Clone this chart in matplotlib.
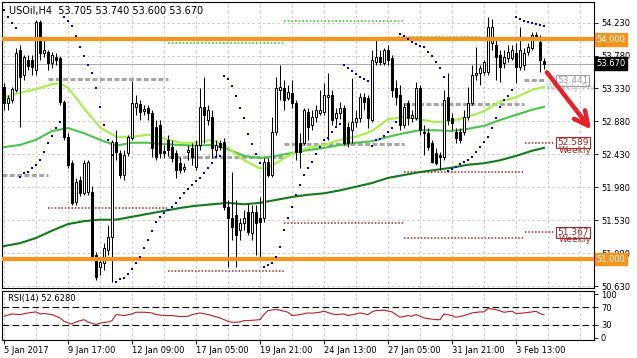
import matplotlib
matplotlib.use('Agg')
import matplotlib.pyplot as plt
import matplotlib.transforms as mtransforms

# velas H4 de USOil (apertura, maximo, minimo, cierre)
opens = [53.35, 53.13, 53.17, 53.31, 53.85, 53.51, 53.72, 53.72, 53.58, 54.24,
         53.81, 53.83, 53.68, 53.76, 53.74, 53.15, 52.67, 52.31, 51.78, 52.08,
         51.90, 51.92, 51.92, 51.06, 50.89, 50.95, 51.13, 51.30, 52.60, 52.45,
         52.15, 52.45, 52.65, 53.08, 53.12, 53.02, 53.06, 52.99, 52.80, 52.83,
         52.48, 52.63, 52.53, 52.45, 52.31, 52.23, 52.47, 52.52, 52.26, 52.56,
         53.08, 52.90, 52.94, 52.49, 52.58, 52.60, 51.71, 51.56, 51.60, 51.40,
         51.49, 51.64, 51.36, 51.64, 51.56, 51.56, 52.33, 52.15, 52.74, 53.31,
         53.34, 53.20, 53.27, 53.13, 52.59, 52.59, 53.01, 52.83, 52.94, 52.99,
         53.01, 53.21, 53.24, 52.93, 52.99, 53.06, 52.80, 52.76, 52.87, 52.93,
         53.21, 53.20, 52.90, 53.69, 53.76, 53.68, 53.85, 53.75, 53.34, 53.24,
         52.83, 53.13, 52.93, 52.93, 53.34, 52.74, 52.72, 52.59, 52.45, 52.42,
         52.40, 53.21, 52.93, 52.74, 52.74, 52.74, 52.94, 53.13, 53.51, 53.54,
         53.55, 53.55, 53.95, 53.92, 53.79, 53.68, 53.75, 53.75, 53.81, 53.62,
         53.65, 53.83, 53.88, 54.04, 53.97, 53.705]
highs = [53.40, 53.24, 53.35, 53.88, 53.92, 53.79, 53.79, 53.79, 54.26, 54.26,
         53.99, 53.85, 53.83, 53.81, 53.77, 53.17, 52.72, 52.35, 52.11, 52.14,
         52.35, 52.35, 52.00, 51.10, 51.02, 51.22, 51.47, 52.63, 52.76, 52.49,
         52.49, 52.70, 53.43, 53.24, 53.17, 53.10, 53.10, 53.04, 52.90, 52.90,
         52.56, 52.70, 52.63, 52.49, 52.40, 52.31, 52.56, 52.59, 52.63, 53.34,
         53.49, 53.10, 53.04, 52.63, 52.63, 52.65, 51.81, 52.19, 51.81, 51.56,
         51.67, 51.77, 51.74, 51.74, 51.85, 52.38, 52.38, 52.94, 53.49, 53.65,
         53.45, 53.38, 53.45, 53.17, 52.72, 53.06, 53.06, 53.04, 53.10, 53.31,
         53.40, 53.54, 53.31, 53.06, 53.15, 53.10, 52.87, 53.47, 53.04, 53.27,
         53.27, 53.24, 53.85, 53.99, 53.85, 53.88, 53.92, 53.79, 53.45, 53.38,
         53.13, 53.17, 53.04, 53.42, 53.38, 52.83, 52.79, 52.63, 52.52, 52.46,
         53.31, 53.54, 53.00, 52.79, 52.79, 53.04, 53.35, 53.65, 53.90, 53.65,
         53.72, 54.30, 54.28, 53.99, 53.85, 53.85, 53.92, 53.92, 53.95, 54.17,
         53.88, 53.95, 54.10, 54.10, 54.06, 53.74]
lows = [53.04, 53.04, 53.13, 53.28, 52.80, 53.45, 53.58, 53.51, 53.51, 53.72,
        53.76, 53.58, 53.61, 53.65, 53.10, 52.63, 52.25, 51.74, 51.74, 51.86,
        51.88, 51.88, 51.01, 50.72, 50.79, 50.85, 51.06, 50.69, 52.35, 52.11,
        52.08, 52.41, 52.63, 52.97, 52.90, 52.97, 52.90, 52.40, 52.35, 52.38,
        52.38, 52.41, 52.33, 52.11, 52.18, 52.19, 52.35, 52.29, 52.22, 52.49,
        52.59, 52.83, 52.38, 52.40, 52.49, 51.67, 50.89, 51.26, 50.89, 51.26,
        51.40, 51.33, 51.26, 51.06, 51.03, 51.51, 52.12, 52.12, 52.70, 53.17,
        53.04, 53.17, 53.06, 52.35, 52.25, 52.56, 52.63, 52.76, 52.87, 52.97,
        52.97, 52.63, 52.83, 52.83, 52.92, 52.56, 52.53, 52.59, 52.80, 52.87,
        53.04, 52.79, 52.87, 53.65, 53.65, 53.65, 53.65, 53.21, 53.10, 52.76,
        52.79, 52.83, 52.87, 52.90, 52.70, 52.42, 52.49, 52.31, 52.29, 52.22,
        52.35, 52.83, 52.76, 52.59, 52.58, 52.70, 52.90, 53.10, 53.45, 53.38,
        53.51, 53.51, 53.85, 53.45, 53.42, 53.61, 53.69, 53.72, 53.40, 53.58,
        53.58, 53.79, 53.85, 53.99, 53.55, 53.60]
closes = [53.13, 53.20, 53.32, 53.81, 53.49, 53.76, 53.64, 53.62, 54.24, 53.81,
          53.85, 53.68, 53.79, 53.72, 53.15, 52.67, 52.29, 51.77, 52.05, 51.90,
          52.31, 52.33, 51.03, 50.76, 50.96, 51.15, 51.30, 52.60, 52.47, 52.15,
          52.42, 52.67, 53.13, 53.13, 53.01, 53.05, 52.99, 52.52, 52.40, 52.45,
          52.45, 52.49, 52.38, 52.22, 52.22, 52.26, 52.49, 52.40, 52.56, 53.08,
          52.97, 53.04, 52.52, 52.56, 52.53, 51.71, 51.56, 51.44, 51.33, 51.49,
          51.56, 51.37, 51.64, 51.49, 51.51, 52.33, 52.15, 52.74, 53.34, 53.35,
          53.17, 53.28, 53.13, 52.46, 52.46, 53.04, 52.80, 52.94, 53.04, 53.04,
          53.24, 53.24, 52.90, 52.99, 53.06, 52.59, 52.59, 52.87, 52.93, 53.21,
          53.15, 52.93, 53.72, 53.76, 53.69, 53.85, 53.72, 53.31, 53.21, 52.83,
          53.08, 52.93, 52.97, 53.34, 52.76, 52.72, 52.53, 52.33, 52.31, 52.40,
          53.17, 52.90, 52.86, 52.65, 52.63, 52.94, 53.13, 53.51, 53.54, 53.61,
          53.69, 54.17, 54.17, 53.76, 53.62, 53.76, 53.83, 53.85, 53.62, 53.85,
          53.81, 53.90, 54.06, 54.06, 53.72, 53.67]

# parabolic SAR, un punto por vela
sar = [54.40, 54.31, 54.22, 54.16, 52.12, 52.18, 52.19, 52.25, 52.29, 52.35,
       52.46, 52.59, 52.68, 52.79, 52.87, 54.31, 54.25, 54.18, 54.05, 53.90,
       53.77, 53.65, 53.54, 53.34, 53.08, 52.83, 52.63, 52.42, 50.69, 50.73,
       50.74, 50.80, 50.87, 50.95, 51.03, 51.15, 51.26, 51.39, 51.51, 51.58,
       51.63, 51.67, 51.71, 51.77, 51.84, 51.90, 51.96, 52.01, 52.07, 52.11,
       52.18, 52.25, 52.31, 52.40, 52.41, 53.50, 53.46, 53.36, 53.23, 53.06,
       52.93, 52.71, 52.57, 52.44, 52.31, 50.89, 50.92, 50.95, 51.03, 51.17,
       51.40, 51.56, 51.71, 51.88, 52.01, 52.15, 52.25, 52.33, 52.44, 52.53,
       52.63, 52.65, 52.74, 52.80, 52.85, 53.65, 53.61, 53.57, 53.53, 53.49,
       53.46, 53.43, 52.55, 52.63, 52.64, 52.68, 52.74, 52.79, 52.87, 54.07,
       54.05, 54.01, 53.96, 53.94, 53.91, 53.90, 53.83, 53.77, 53.69, 53.61,
       53.49, 52.20, 52.23, 52.26, 52.30, 52.33, 52.35, 52.40, 52.46, 52.53,
       52.60, 52.67, 52.79, 52.93, 53.08, 53.17, 53.23, 53.31, 54.31, 54.28,
       54.25, 54.24, 54.22, 54.21, 54.20, 54.18]

# medias moviles
ma_fast_bars = [0, 4, 8, 12, 14, 16, 20, 24, 28, 32, 36, 40, 44, 48, 52, 56, 60, 64, 66, 68,
                72, 76, 80, 84, 88, 92, 96, 100, 104, 108, 112, 116, 120, 124, 128, 132, 135]
ma_fast = [53.21, 53.27, 53.32, 53.39, 53.40, 53.34, 53.06, 52.80, 52.67, 52.67, 52.70, 52.65,
           52.59, 52.59, 52.63, 52.52, 52.35, 52.24, 52.25, 52.31, 52.44, 52.52, 52.56, 52.63,
           52.67, 52.75, 52.91, 52.94, 52.91, 52.87, 52.89, 52.94, 53.02, 53.15, 53.21, 53.31, 53.35]
ma_bars = [0, 4, 8, 12, 16, 20, 24, 28, 32, 36, 40, 44, 48, 52, 56, 60, 64, 68,
           72, 76, 80, 84, 88, 92, 96, 100, 104, 108, 112, 116, 120, 124, 128, 132, 135]
ma_mid = [52.53, 52.56, 52.63, 52.75, 52.79, 52.72, 52.63, 52.55, 52.59, 52.59, 52.57, 52.56,
          52.55, 52.56, 52.50, 52.41, 52.38, 52.41, 52.45, 52.49, 52.52, 52.56, 52.59, 52.61,
          52.67, 52.72, 52.76, 52.76, 52.75, 52.78, 52.82, 52.90, 52.97, 53.04, 53.08]
ma_slow = [51.18, 51.22, 51.29, 51.39, 51.48, 51.52, 51.54, 51.54, 51.58, 51.62, 51.66, 51.70,
           51.73, 51.75, 51.77, 51.75, 51.77, 51.81, 51.85, 51.88, 51.90, 51.94, 51.99, 52.04,
           52.11, 52.15, 52.19, 52.22, 52.25, 52.29, 52.31, 52.35, 52.41, 52.48, 52.52]

# niveles pivote (precio, vela inicial, vela final)
gray_levels = [52.15, 53.46, 52.40, 52.57, 53.12, 53.441]
gray_from = [-0.5, 11, 41, 70, 100, 130]
gray_to = [11, 41, 70, 100, 130, 135]
red_levels = [51.70, 50.84, 51.50, 52.19, 51.29, 52.589, 51.367]
red_from = [11, 41, 70, 100, 100, 130.3, 130.3]
red_to = [41, 70, 100, 130, 130, 137.8, 137.8]
green_levels = [53.95, 54.25, 54.03]
green_from = [41, 70, 98.5]
green_to = [70, 100, 119]
orange_levels = [54.0, 51.0]

# RSI(14)
rsi_bars = [0, 2, 4, 6, 8, 9, 10, 12, 14, 15, 17, 18, 19, 20, 21, 23, 24, 26, 27, 28,
            30, 32, 33, 35, 37, 38, 40, 42, 44, 46, 47, 49, 51, 52, 54, 56, 57, 59, 60, 62,
            64, 65, 66, 68, 69, 71, 72, 74, 76, 77, 79, 80, 82, 83, 85, 86, 88, 89, 91, 92,
            93, 95, 97, 98, 99, 101, 102, 103, 105, 106, 108, 109, 110, 112, 113, 115, 117, 119, 120, 121,
            123, 125, 127, 128, 130, 132, 133, 134, 135]
rsi_vals = [49.2, 54.6, 53.1, 56.9, 59.2, 54.6, 55.4, 53.1, 45.4, 37.7, 31.5, 36.2, 39.2, 41.5, 36.2, 30.0, 33.8, 36.2, 39.2, 53.1,
            50.8, 54.6, 58.5, 58.5, 56.9, 53.1, 50.8, 50.8, 48.5, 49.2, 53.1, 56.9, 53.1, 50.8, 45.4, 37.7, 35.4, 36.2, 39.2, 40.0,
            41.5, 53.1, 62.3, 64.6, 63.1, 58.5, 50.8, 53.1, 56.9, 56.2, 58.5, 60.8, 54.6, 53.1, 54.6, 50.8, 54.6, 56.9, 53.1, 59.2,
            62.3, 63.1, 59.2, 53.1, 46.9, 50.8, 49.2, 53.1, 45.4, 43.8, 41.5, 41.5, 54.6, 50.8, 46.9, 50.8, 56.9, 59.2, 59.2, 66.9,
            64.6, 58.5, 60.8, 55.4, 56.9, 59.2, 60.8, 55.4, 52.6]

price_ticks = [50.63, 51.08, 51.53, 51.98, 52.43, 52.88, 53.33, 53.78, 54.23]
time_ticks = [0, 16, 32, 48, 64, 80, 96, 112, 128]
time_labels = ['5 Jan 2017', '9 Jan 17:00', '12 Jan 09:00', '17 Jan 05:00', '19 Jan 21:00',
               '24 Jan 13:00', '27 Jan 05:00', '31 Jan 21:00', '3 Feb 13:00']

fig = plt.figure(figsize=(6.37, 3.58), dpi=100)
ax = fig.add_axes([2 / 637, 1 - 288 / 358, 592 / 637, 286 / 358])
ax_rsi = fig.add_axes([2 / 637, 1 - 340 / 358, 592 / 637, 49 / 358], sharex=ax)

grid_color = '#c4c4c4'
for a in (ax, ax_rsi):
    for x in range(0, 148, 8):
        a.axvline(x, color=grid_color, lw=0.6, ls=(0, (3, 3)), zorder=0)
    for s in a.spines.values():
        s.set_linewidth(0.8)
for p in price_ticks:
    ax.axhline(p, color=grid_color, lw=0.6, ls=(0, (3, 3)), zorder=0)

# linea del precio actual
ax.axhline(closes[-1], color='#a8a8a8', lw=0.7, zorder=1)

# pivotes
ax.hlines(gray_levels, gray_from, gray_to, colors='#a5a5a5', lw=2.2, linestyles=(0, (1.6, 0.8)), zorder=2)
ax.hlines(red_levels, red_from, red_to, colors='#a32a2a', lw=1.1, linestyles=(0, (1, 1.2)), zorder=2)
ax.hlines(green_levels[:2], green_from[:2], green_to[:2], colors='#3ccd3c', lw=1.2, linestyles=(0, (1, 1.2)), zorder=2)
ax.hlines(green_levels[2], green_from[2], green_to[2], colors='#a8a820', lw=1.2, linestyles=(0, (1, 1.2)), zorder=2)

# medias moviles
ax.plot(ma_bars, ma_slow, color='#16781c', lw=1.5, zorder=3)
ax.plot(ma_bars, ma_mid, color='#4cc24c', lw=1.5, zorder=3)
ax.plot(ma_fast_bars, ma_fast, color='#a8ee48', lw=1.5, zorder=3)

# velas
xs = list(range(len(opens)))
bottoms = [min(o, c) for o, c in zip(opens, closes)]
heights = [max(abs(c - o), 0.012) for o, c in zip(opens, closes)]
faces = ['white' if c >= o else 'black' for o, c in zip(opens, closes)]
ax.vlines(xs, lows, highs, color='black', lw=0.75, zorder=4)
ax.bar(xs, heights, bottom=bottoms, width=0.55, color=faces, edgecolor='black', lw=0.7, zorder=5)

# SAR
ax.scatter(xs, sar, marker='s', s=3.5, color='#0000c8', lw=0, zorder=7)

for lv in orange_levels:
    ax.axhline(lv, color='#f7941d', lw=3, zorder=6)

ax.set_xlim(-0.5, 147.5)
ax.set_ylim(50.608, 54.51)
ax.yaxis.tick_right()
ax.set_yticks(price_ticks)
ax.set_yticklabels(['%.3f' % p for p in price_ticks])
ax.tick_params(axis='y', labelsize=6, length=3, width=0.6, pad=2)
ax.tick_params(axis='x', bottom=False, labelbottom=False)

# etiquetas a la derecha
right = mtransforms.blended_transform_factory(ax.transAxes, ax.transData)
for lv in orange_levels:
    ax.text(1.004, lv, '%.3f' % lv, transform=right, fontsize=6, color='white', va='center', ha='left',
            clip_on=False, zorder=10, bbox=dict(boxstyle='square,pad=0.2', fc='#f7941d', ec='#f7941d'))
ax.text(1.004, closes[-1], '%.3f' % closes[-1], transform=right, fontsize=6, color='white', va='center',
        ha='left', clip_on=False, zorder=10, bbox=dict(boxstyle='square,pad=0.2', fc='black', ec='black'))

# etiquetas semanales
ax.text(135.5, gray_levels[-1] - 0.1, 'Weekly Piv', fontsize=6.5, color='#bdbdbd', va='center', ha='left',
        zorder=8, clip_on=True)
ax.text(138.3, gray_levels[-1], '%.3f' % gray_levels[-1], fontsize=6.5, color='#a0a0a0', va='center', ha='left',
        zorder=9, bbox=dict(boxstyle='square,pad=0.1', fc='none', ec='#a0a0a0', lw=0.8))
for lv in red_levels[-2:]:
    ax.text(138.8, lv - 0.1, 'Weekly', fontsize=6.5, color='#a32a2a', va='center', ha='left', zorder=8)
    ax.text(138.3, lv, '%.3f' % lv, fontsize=6.5, color='#a32a2a', va='center', ha='left', zorder=9,
            bbox=dict(boxstyle='square,pad=0.1', fc='none', ec='#a32a2a', lw=0.8))

# flecha roja
ax.annotate('', xy=(147.2, 52.74), xytext=(135.3, 53.58), annotation_clip=False, zorder=9,
            arrowprops=dict(arrowstyle='->,head_width=0.5,head_length=1.0', color='#e5202a', lw=3.2))

ax.text(0.012, 0.985, 'USOil,H4  53.705 53.740 53.600 53.670', transform=ax.transAxes,
        fontsize=7, va='top', ha='left', zorder=10)

# panel RSI
ax_rsi.plot(rsi_bars, rsi_vals, color='#b22222', lw=0.8, zorder=3)
for lv in (70, 30):
    ax_rsi.axhline(lv, color='black', lw=0.8, ls=(0, (6, 3)), zorder=2)
ax_rsi.set_ylim(-5, 107)
ax_rsi.yaxis.tick_right()
ax_rsi.set_yticks([0, 30, 70, 100])
ax_rsi.set_yticklabels(['0', '30', '70', '100'])
ax_rsi.tick_params(axis='y', labelsize=6, length=3, width=0.6, pad=2)
ax_rsi.set_xticks(time_ticks)
ax_rsi.set_xticklabels(time_labels, ha='left')
ax_rsi.tick_params(axis='x', labelsize=6, length=3, width=0.6, pad=1)
ax_rsi.text(0.01, 0.93, 'RSI(14) 52.6280', transform=ax_rsi.transAxes, fontsize=6, va='top', ha='left')

fig.savefig('out.png', dpi=100)
